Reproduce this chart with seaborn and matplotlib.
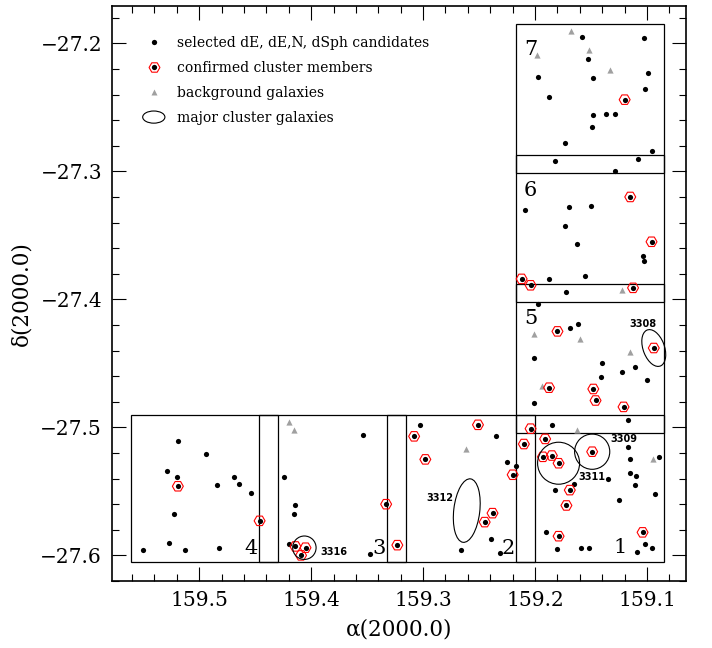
import matplotlib
matplotlib.use("Agg")
import matplotlib.pyplot as plt
import pandas as pd
import seaborn as sns
from matplotlib.patches import Ellipse, Rectangle
from matplotlib.lines import Line2D
from matplotlib.legend_handler import HandlerPatch
from matplotlib.ticker import MultipleLocator

# selected dE, dE,N, dSph candidates (not confirmed)
cand_ra = [159.158, 159.103, 159.153, 159.099, 159.197, 159.148, 159.102, 159.188, 159.148, 159.137,
           159.129, 159.149, 159.173, 159.096, 159.182, 159.108, 159.129,
           159.209, 159.170, 159.150, 159.173, 159.163, 159.104, 159.103, 159.1875, 159.155, 159.172,
           159.197, 159.169, 159.162, 159.201, 159.140, 159.122, 159.111, 159.100, 159.141, 159.201,
           159.117, 159.185,
           159.117, 159.089, 159.115, 159.225, 159.217, 159.115, 159.110, 159.111, 159.135, 159.165,
           159.182, 159.125, 159.093, 159.190, 159.180, 159.159, 159.152, 159.102, 159.096, 159.109,
           159.303, 159.235, 159.239, 159.266, 159.231,
           159.354, 159.347, 159.424, 159.414, 159.415, 159.420,
           159.519, 159.494, 159.529, 159.520, 159.484, 159.469, 159.464, 159.454, 159.522, 159.527,
           159.550, 159.513, 159.482]
cand_dec = [-27.195, -27.196, -27.212, -27.223, -27.226, -27.227, -27.236, -27.242, -27.256, -27.255,
            -27.255, -27.265, -27.278, -27.284, -27.292, -27.290, -27.300,
            -27.330, -27.328, -27.327, -27.343, -27.357, -27.366, -27.370, -27.384, -27.382, -27.394,
            -27.404, -27.422, -27.419, -27.446, -27.450, -27.457, -27.453, -27.463, -27.461, -27.481,
            -27.494, -27.498,
            -27.515, -27.523, -27.525, -27.527, -27.530, -27.536, -27.538, -27.545, -27.540, -27.544,
            -27.549, -27.557, -27.552, -27.582, -27.595, -27.594, -27.594, -27.591, -27.594, -27.597,
            -27.498, -27.507, -27.587, -27.596, -27.598,
            -27.506, -27.599, -27.539, -27.561, -27.568, -27.591,
            -27.511, -27.521, -27.534, -27.539, -27.545, -27.539, -27.544, -27.551, -27.568, -27.590,
            -27.596, -27.596, -27.594]

# confirmed cluster members
memb_ra = [159.120, 159.115, 159.096, 159.212, 159.204, 159.1125,
           159.180, 159.094, 159.1875, 159.148, 159.146, 159.121, 159.204,
           159.191, 159.210, 159.149, 159.193, 159.185, 159.179, 159.220, 159.169, 159.172, 159.104, 159.179,
           159.308, 159.251, 159.298, 159.238, 159.245,
           159.333, 159.323, 159.414, 159.405, 159.409,
           159.519, 159.446]
memb_dec = [-27.244, -27.320, -27.355, -27.384, -27.389, -27.391,
            -27.425, -27.438, -27.469, -27.470, -27.479, -27.484, -27.501,
            -27.509, -27.513, -27.519, -27.523, -27.522, -27.528, -27.537, -27.549, -27.561, -27.582, -27.585,
            -27.507, -27.498, -27.525, -27.567, -27.574,
            -27.560, -27.592, -27.593, -27.594, -27.600,
            -27.546, -27.573]

# background galaxies
bg_ra = [159.168, 159.198, 159.152, 159.133, 159.122, 159.201, 159.160, 159.115, 159.194, 159.163,
         159.095, 159.262, 159.420, 159.415]
bg_dec = [-27.190, -27.209, -27.205, -27.221, -27.393, -27.427, -27.431, -27.441, -27.468, -27.502,
          -27.525, -27.517, -27.496, -27.502]

# major cluster galaxies (NGC numbers), ellipse sizes in degrees
gal_names = ["3308", "3309", "3311", "3312", "3316"]
gal_ra = [159.094, 159.149, 159.179, 159.261, 159.406]
gal_dec = [-27.438, -27.519, -27.528, -27.565, -27.594]
gal_w = [0.0188, 0.0314, 0.0375, 0.0232, 0.0209]
gal_h = [0.0305, 0.0275, 0.0328, 0.0500, 0.0183]
gal_ang = [-25, 0, 0, 8, 0]
gal_lab_ra = [159.104, 159.121, 159.149, 159.285, 159.380]
gal_lab_dec = [-27.419, -27.509, -27.539, -27.555, -27.597]

# observed fields
field_ids = ["1", "2", "3", "4", "5", "6", "7"]
field_ra_east = [159.2167, 159.3321, 159.4469, 159.5610, 159.2167, 159.2167, 159.2167]
field_ra_west = [159.0851, 159.2000, 159.3152, 159.4299, 159.0851, 159.0851, 159.0851]
field_dec_lo = [-27.605, -27.605, -27.605, -27.605, -27.504, -27.402, -27.301]
field_dec_hi = [-27.490, -27.490, -27.490, -27.490, -27.388, -27.287, -27.185]
field_lab_ra = [159.124, 159.224, 159.339, 159.454, 159.204, 159.204, 159.204]
field_lab_dec = [-27.594, -27.595, -27.595, -27.595, -27.415, -27.315, -27.205]

serif = "DejaVu Serif"
plt.rcParams["font.family"] = [serif, "DejaVu Sans"]

cand = pd.DataFrame({"ra": cand_ra + memb_ra, "dec": cand_dec + memb_dec})
memb = pd.DataFrame({"ra": memb_ra, "dec": memb_dec})
bg = pd.DataFrame({"ra": bg_ra, "dec": bg_dec})

fig = plt.figure(figsize=(7.12, 6.48), dpi=100)
ax = fig.add_axes([0.157, 0.1034, 0.8062, 0.8878])

for i in range(len(field_ids)):
    ax.add_patch(Rectangle((field_ra_west[i], field_dec_lo[i]), field_ra_east[i] - field_ra_west[i],
                           field_dec_hi[i] - field_dec_lo[i], fill=False, ec="black", lw=0.9))
    ax.text(field_lab_ra[i], field_lab_dec[i], field_ids[i], ha="center", va="center", fontsize=15)

sns.scatterplot(bg, x="ra", y="dec", marker="^", s=20, color="#a0a0a0", linewidth=0, ax=ax)
sns.scatterplot(cand, x="ra", y="dec", marker="o", s=14, color="black", linewidth=0, ax=ax)
sns.scatterplot(memb, x="ra", y="dec", marker="H", s=62, color="red", facecolor="none",
                edgecolor="red", linewidth=0.8, ax=ax)

for i in range(len(gal_names)):
    ax.add_patch(Ellipse((gal_ra[i], gal_dec[i]), gal_w[i], gal_h[i], angle=gal_ang[i],
                         fill=False, ec="black", lw=0.8))
    ax.text(gal_lab_ra[i], gal_lab_dec[i], gal_names[i], ha="center", va="center",
            fontsize=7, weight="bold", family="DejaVu Sans")

ax.set_xlim(159.578, 159.0654)
ax.set_ylim(-27.620, -27.1706)
ax.xaxis.set_major_locator(MultipleLocator(0.1))
ax.xaxis.set_minor_locator(MultipleLocator(0.02))
ax.yaxis.set_major_locator(MultipleLocator(0.1))
ax.yaxis.set_minor_locator(MultipleLocator(0.02))
ax.tick_params(which="both", direction="in", top=True, right=True, width=0.8, labelsize=14.5)
ax.tick_params(which="major", length=10, pad=7)
ax.tick_params(which="minor", length=5)
for s in ax.spines.values():
    s.set_linewidth(1.2)
ax.set_xlabel("α(2000.0)", fontsize=15.5, labelpad=6)
ax.set_ylabel("δ(2000.0)", fontsize=15.5, labelpad=6)


def make_ellipse(legend, orig_handle, xdescent, ydescent, width, height, fontsize):
    return Ellipse((width / 2 - xdescent, height / 2 - ydescent), width * 0.8, height * 1.25)


handles = [
    Line2D([], [], ls="none", marker="o", ms=3.8, mfc="black", mec="none"),
    (Line2D([], [], ls="none", marker="H", ms=7.8, mfc="none", mec="red", mew=0.8),
     Line2D([], [], ls="none", marker="o", ms=3.8, mfc="black", mec="none")),
    Line2D([], [], ls="none", marker="^", ms=4.5, mfc="#a0a0a0", mec="none"),
    Ellipse((0, 0), 1, 1, fill=False, ec="black", lw=0.8),
]
labels = ["selected dE, dE,N, dSph candidates", "confirmed cluster members",
          "background galaxies", "major cluster galaxies"]
ax.legend(handles, labels, loc="upper left", bbox_to_anchor=(0.049, 0.948), frameon=False,
          borderpad=0, borderaxespad=0, labelspacing=0.8, handlelength=2.0, handletextpad=0.7,
          prop={"family": serif, "size": 10},
          handler_map={Ellipse: HandlerPatch(patch_func=make_ellipse)})

fig.savefig("out.png", dpi=100)
